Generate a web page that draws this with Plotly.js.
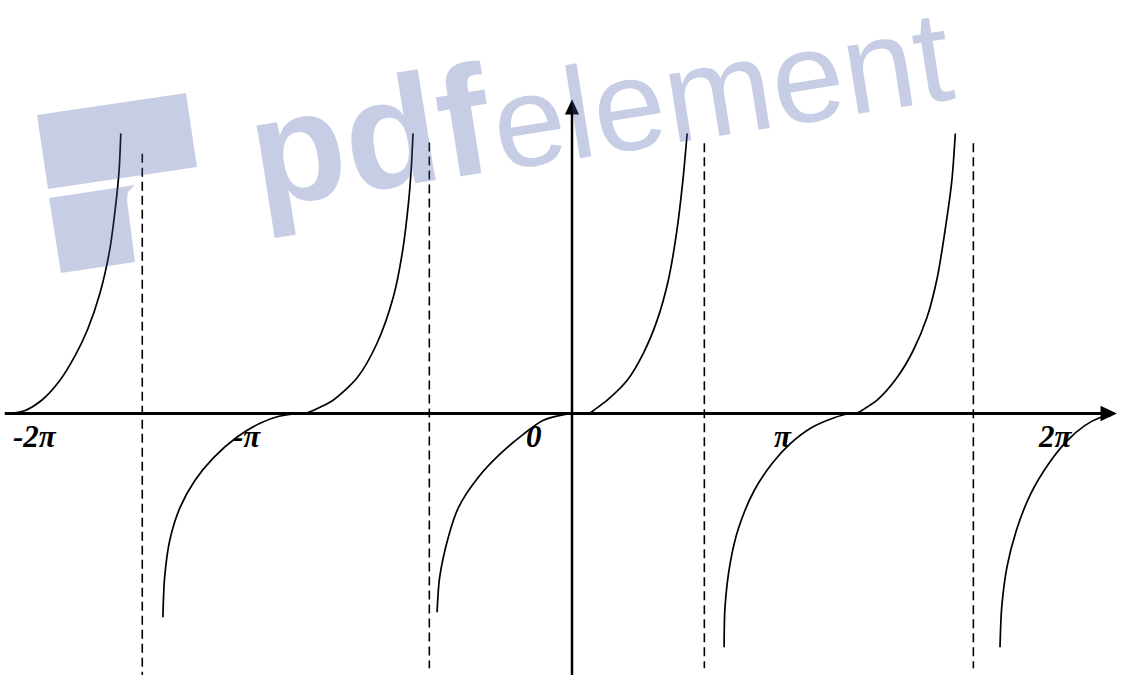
<!DOCTYPE html>
<html><head><meta charset="utf-8">
<script src="https://cdn.plot.ly/plotly-3.0.1.min.js"></script>
<style>html,body{margin:0;padding:0;background:#fff}#chart{width:1121px;height:675px}</style>
</head><body><div id="chart"></div>
<script>
// ---- data (x in radians, y in arbitrary units) ----
const branch1X = [-6.57, -6.37, -6.16, -5.96, -5.78, -5.64, -5.49, -5.38, -5.31, -5.27, -5.25];
const branch1Y = [0, 0.04, 0.2, 0.47, 0.83, 1.19, 1.73, 2.33, 2.97, 3.47, 4.0];
const branch2X = [-4.76, -4.74, -4.68, -4.56, -4.39, -4.17, -3.90, -3.63, -3.41, -3.19];
const branch2Y = [-2.91, -2.34, -1.81, -1.34, -0.96, -0.63, -0.34, -0.14, -0.04, 0];
const branch3X = [-3.17, -3.08, -2.93, -2.78, -2.50, -2.27, -2.08, -1.97, -1.90, -1.87, -1.85];
const branch3Y = [0, 0.01, 0.09, 0.19, 0.51, 1.0, 1.66, 2.33, 3.04, 3.51, 4.0];
const branch4X = [-1.57, -1.54, -1.44, -1.32, -1.09, -0.83, -0.56, -0.34, -0.15, 0];
const branch4Y = [-2.84, -2.34, -1.77, -1.34, -0.91, -0.57, -0.29, -0.1, -0.03, 0];
const branch5X = [0, 0.21, 0.29, 0.41, 0.64, 0.83, 0.99, 1.12, 1.22, 1.29, 1.34];
const branch5Y = [0, 0.01, 0.08, 0.19, 0.47, 0.86, 1.33, 1.9, 2.61, 3.33, 4.0];
const branch6X = [1.77, 1.78, 1.84, 1.94, 2.12, 2.33, 2.54, 2.79, 3.05, 3.22];
const branch6Y = [-3.34, -2.77, -2.14, -1.63, -1.1, -0.71, -0.43, -0.2, -0.06, 0];
const branch7X = [3.18, 3.32, 3.43, 3.55, 3.78, 3.97, 4.13, 4.25, 4.34, 4.42, 4.46];
const branch7Y = [0, 0.01, 0.09, 0.19, 0.51, 0.9, 1.37, 1.94, 2.61, 3.33, 4.0];
const branch8X = [4.98, 5.00, 5.06, 5.17, 5.34, 5.55, 5.76, 5.97, 6.14, 6.27];
const branch8Y = [-3.34, -2.77, -2.2, -1.67, -1.14, -0.71, -0.39, -0.17, -0.06, -0.03];

const asymX = [-5.00, -1.66, 1.54, 4.67];
const asymTop = [3.71, 3.87, 3.86, 3.86];
const asymBottom = [-3.74, -3.64, -3.64, -3.64];

const tickText = ['-2π', '-π', '0', 'π', '2π'];
const tickX = [-6.25, -3.78, -0.44, 2.46, 5.63];

// ---- layout helpers ----
const W = 1121, H = 675;
const k = Math.PI / 270;          // radians per pixel
const yUnit = 70;                 // pixels per y unit
const zeroPx = 572, zeroPy = 413.5;
const xRange = [-zeroPx * k, (W - zeroPx) * k];
const yRange = [-(H - zeroPy) / yUnit, zeroPy / yUnit];

const branches = [
  [branch1X, branch1Y], [branch2X, branch2Y], [branch3X, branch3Y], [branch4X, branch4Y],
  [branch5X, branch5Y], [branch6X, branch6Y], [branch7X, branch7Y], [branch8X, branch8Y]
];
const traces = branches.map(b => ({
  type: 'scatter', mode: 'lines', x: b[0], y: b[1],
  line: {color: '#000', width: 1.7, shape: 'spline', smoothing: 0.8},
  hoverinfo: 'skip', showlegend: false
}));
const ax = [], ay = [];
asymX.forEach((x, i) => { ax.push(x, x, null); ay.push(asymTop[i], asymBottom[i], null); });
traces.push({
  type: 'scatter', mode: 'lines', x: ax, y: ay,
  line: {color: '#000', width: 1.6, dash: '9px,5px'}, hoverinfo: 'skip', showlegend: false
});

// pixel -> paper for decoration
const P = (x, y) => (x / W).toFixed(5) + ',' + (1 - y / H).toFixed(5);
const path = pts => 'M' + pts.map(p => P(p[0], p[1])).join(' L') + ' Z';
const wm = 'rgba(72,88,172,0.3)';

const shapes = [
  // x axis
  {type: 'line', xref: 'x', yref: 'y', x0: -6.60, x1: 6.17, y0: 0, y1: 0, line: {color: '#000', width: 3}},
  {type: 'path', xref: 'x', yref: 'y', path: 'M 6.15 0.11 L 6.34 0 L 6.15 -0.11 Z', fillcolor: '#000', line: {width: 0}},
  // y axis
  {type: 'line', xref: 'x', yref: 'y', x0: 0, x1: 0, y0: yRange[0], y1: 4.28, line: {color: '#000', width: 2.5}},
  {type: 'path', xref: 'x', yref: 'y', path: 'M -0.082 4.27 L 0 4.49 L 0.082 4.27 Z', fillcolor: '#000', line: {width: 0}},
  // watermark logo
  {type: 'path', xref: 'paper', yref: 'paper', layer: 'above', path: path([[37,115],[186,93],[197,167],[48,189]]), fillcolor: wm, line: {width: 0}},
  {type: 'path', xref: 'paper', yref: 'paper', layer: 'above', path: path([[49,198],[135,185],[128,192],[127,200],[135,262],[61,273]]), fillcolor: wm, line: {width: 0}}
];

const annotations = tickText.map((t, i) => ({
  x: tickX[i], y: -0.33, xref: 'x', yref: 'y', text: t, showarrow: false,
  xanchor: 'center', yanchor: 'middle',
  font: {family: 'Liberation Serif, Times New Roman, serif', size: 31, weight: 'bold', style: 'italic', color: '#000'}
}));
annotations.push(
  {x: 369 / W, y: 1 - 136 / H, xref: 'paper', yref: 'paper', text: 'pdf', showarrow: false,
   xanchor: 'center', yanchor: 'middle', textangle: -9,
   font: {family: 'Liberation Sans, Arial, sans-serif', size: 155, weight: 'bold', color: wm}},
  {x: 722 / W, y: 1 - 90 / H, xref: 'paper', yref: 'paper', text: 'element', showarrow: false,
   xanchor: 'center', yanchor: 'middle', textangle: -9,
   font: {family: 'Liberation Sans, Arial, sans-serif', size: 130, weight: 'normal', color: wm}}
);

const layout = {
  width: W, height: H, margin: {l: 0, r: 0, t: 0, b: 0},
  paper_bgcolor: '#fff', plot_bgcolor: '#fff', showlegend: false,
  xaxis: {range: xRange, visible: false, fixedrange: true},
  yaxis: {range: yRange, visible: false, fixedrange: true},
  shapes: shapes, annotations: annotations
};
Plotly.newPlot('chart', traces, layout, {staticPlot: true, displayModeBar: false});
</script>
</body></html>
